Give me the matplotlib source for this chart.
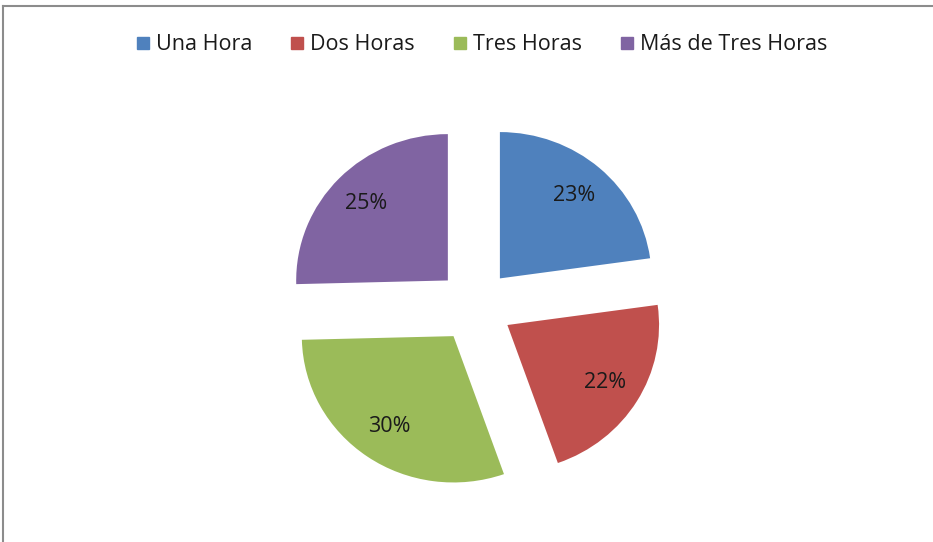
import matplotlib.pyplot as plt
from matplotlib.lines import Line2D

etiquetas = ['Una Hora', 'Dos Horas', 'Tres Horas', 'Más de Tres Horas']
valores = [22.8, 21.8, 30.0, 25.4]
colores = ['#4F81BD', '#C0504D', '#9BBB59', '#8064A2']

plt.rcParams['font.family'] = ['Open Sans', 'DejaVu Sans']

fig = plt.figure(figsize=(9.33, 5.42), dpi=100)

# pie centred around (475, 306) px; slightly wider than tall like the original
L = 1.5
ancho, alto = 455, 439
ax = fig.add_axes([(475 - ancho / 2) / 933, (236 - alto / 2) / 542, ancho / 933, alto / 542])
wedges, textos, pcts = ax.pie(valores, colors=colores, startangle=90, counterclock=False,
                              explode=[0.25] * 4, autopct='%1.0f%%', pctdistance=0.75,
                              textprops={'fontsize': 15.5, 'color': '#1a1a1a'})
ax.set_xlim(-L, L)
ax.set_ylim(-L, L)
ax.set_aspect('auto')
ax.axis('off')

handles = [Line2D([], [], marker='s', linestyle='', markersize=8.5, color=c) for c in colores]
fig.legend(handles, etiquetas, loc='center', bbox_to_anchor=(0.514, 1 - 45 / 542), ncol=4,
           frameon=False, fontsize=15.5, handletextpad=0.1, columnspacing=1.6,
           handlelength=1.0, labelcolor='#1a1a1a')

# chart border (top and left visible)
fig.add_artist(Line2D([3 / 933, 3 / 933], [0, 1 - 6 / 542], color='#8c8c8c', lw=1.5))
fig.add_artist(Line2D([3 / 933, 1], [1 - 6 / 542, 1 - 6 / 542], color='#8c8c8c', lw=1.5))

fig.savefig('out.png', dpi=100)
